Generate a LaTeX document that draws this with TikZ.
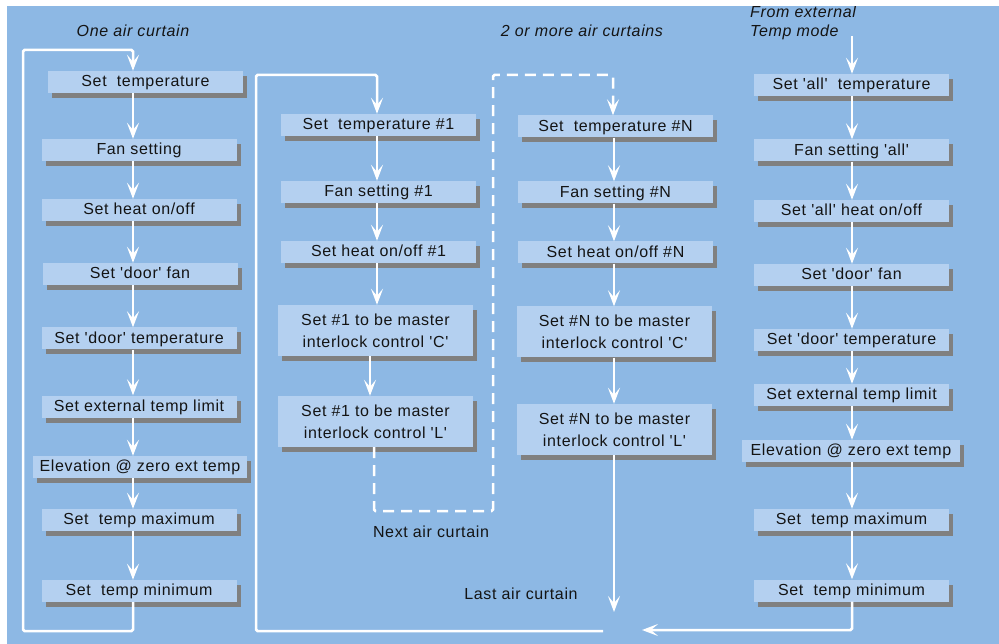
\documentclass[tikz,border=0pt]{standalone}
\usepackage{fontspec}
\setmainfont{Liberation Sans}[LetterSpace=4,Ligatures=TeXOff]
\usetikzlibrary{arrows.meta,shadows}
\definecolor{bgblue}{RGB}{141,184,228}
\definecolor{boxblue}{RGB}{180,208,240}
\definecolor{shadowgray}{RGB}{128,128,128}
\definecolor{txt}{RGB}{20,20,20}
\tikzset{
  basebox/.style={fill=boxblue, text=txt, inner sep=0pt, minimum width=195pt,
    font=\fontsize{16}{22}\selectfont,
    general shadow={fill=shadowgray, shadow xshift=4pt, shadow yshift=-5pt}},
  box/.style={basebox, minimum height=22pt, text height=12.5pt, text depth=3pt},
  tallbox/.style={basebox, minimum height=51pt, align=center},
  widebox/.style={box, minimum width=#1},
  flow/.style={draw=white, line width=2.5pt, rounded corners=1.5pt,
    -{Stealth[length=16pt,width=12pt,inset=7pt]}},
  dashflow/.style={flow, dash pattern=on 11pt off 7pt},
  title/.style={font=\fontsize{16}{19}\selectfont\itshape, text=txt, inner sep=0pt},
  label/.style={font=\fontsize{16}{19}\selectfont, text=txt, inner sep=0pt}
}
\begin{document}
\begin{tikzpicture}[x=1pt,y=-1pt]
\useasboundingbox (0,0) rectangle (999,644);
\fill[bgblue] (7,6) rectangle (999,644);

% column 1: one air curtain
\node[box] (a1) at (145.5,82) {Set\ \ temperature};
\node[box] (a2) at (139,150) {Fan setting};
\node[box] (a3) at (139,210) {Set heat on/off};
\node[box] (a4) at (140,274) {Set 'door' fan};
\node[box] (a5) at (139,338.5) {Set 'door' temperature};
\node[box] (a6) at (139,406.5) {Set external temp limit};
\node[widebox=214pt] (a7) at (140,467) {Elevation @ zero ext temp};
\node[box] (a8) at (139,520) {Set\ \ temp maximum};
\node[box] (a9) at (139,591) {Set\ \ temp minimum};

% column 2: curtain #1
\node[box] (b1) at (378.5,125) {Set\ \ temperature \#1};
\node[box] (b2) at (378.5,192) {Fan setting \#1};
\node[box] (b3) at (378.5,252) {Set heat on/off \#1};
\node[tallbox] (b4) at (375.5,330.5) {Set \#1 to be master\\interlock control 'C'};
\node[tallbox] (b5) at (375.5,421.5) {Set \#1 to be master\\interlock control 'L'};

% column 3: curtain #N
\node[box] (n1) at (615.5,126.5) {Set\ \ temperature \#N};
\node[box] (n2) at (615.5,192.5) {Fan setting \#N};
\node[box] (n3) at (615.5,252.5) {Set heat on/off \#N};
\node[tallbox] (n4) at (614.5,332) {Set \#N to be master\\interlock control 'C'};
\node[tallbox] (n5) at (614.5,429.5) {Set \#N to be master\\interlock control 'L'};

% column 4: from external temp mode
\node[box] (m1) at (851.5,85) {Set 'all'\ \ temperature};
\node[box] (m2) at (851.5,150.5) {Fan setting 'all'};
\node[box] (m3) at (851.5,211) {Set 'all' heat on/off};
\node[box] (m4) at (851.5,275) {Set 'door' fan};
\node[box] (m5) at (851.5,340) {Set 'door' temperature};
\node[box] (m6) at (851.5,395) {Set external temp limit};
\node[widebox=218pt] (m7) at (851,451) {Elevation @ zero ext temp};
\node[box] (m8) at (851.5,520) {Set\ \ temp maximum};
\node[box] (m9) at (851.5,590.5) {Set\ \ temp minimum};

% labels
\node[title, anchor=base] (t1) at (133,37) {One air curtain};
\node[title, anchor=base] (t2) at (582,37) {2 or more air curtains};
\node[title, anchor=base west] (t3) at (750,18) {From external};
\node[title, anchor=base west] (t4) at (750,37) {Temp mode};
\node[label, anchor=base] (t5) at (431,537) {Next air curtain};
\node[label, anchor=base] (t6) at (521,599) {Last air curtain};

% helper coordinates
\coordinate (c1) at (133,0);
\coordinate (c2) at (377,0);
\coordinate (c2b) at (370,0);
\coordinate (c3) at (614,0);
\coordinate (c3d) at (613,0);
\coordinate (c4) at (852,0);
\coordinate (d1) at (374,0);
\coordinate (l1b) at (23,631);
\coordinate (l1t) at (23,50);
\coordinate (j1) at (603,631);
\coordinate (l2b) at (256,631);
\coordinate (l2t) at (256,75);
\coordinate (d2) at (493,511);
\coordinate (d3) at (493,75);
\coordinate (j2) at (614,612);
\coordinate (j3) at (642,630);
\coordinate (s4) at (852,36);

% column 1 arrows
\draw[flow] (a1.south -| c1) -- (a2.north -| c1);
\draw[flow] (a2.south -| c1) -- (a3.north -| c1);
\draw[flow] (a3.south -| c1) -- (a4.north -| c1);
\draw[flow] (a4.south -| c1) -- (a5.north -| c1);
\draw[flow] (a5.south -| c1) -- (a6.north -| c1);
\draw[flow] (a6.south -| c1) -- (a7.north -| c1);
\draw[flow] (a7.south -| c1) -- (a8.north -| c1);
\draw[flow] (a8.south -| c1) -- (a9.north -| c1);
\draw[flow] (a9.south -| c1) -- (c1 |- l1b) -- (l1b) -- (l1t) -- (c1 |- l1t) -- (a1.north -| c1);

% column 2 arrows
\draw[flow] (j1) -- (l2b) -- (l2t) -- (c2 |- l2t) -- (b1.north -| c2);
\draw[flow] (b1.south -| c2) -- (b2.north -| c2);
\draw[flow] (b2.south -| c2) -- (b3.north -| c2);
\draw[flow] (b3.south -| c2) -- (b4.north -| c2);
\draw[flow] (b4.south -| c2b) -- (b5.north -| c2b);
\draw[dashflow] (b5.south -| d1) -- (d1 |- d2) -- (d2) -- (d3) -- (c3d |- d3) -- (n1.north -| c3d);

% column 3 arrows
\draw[flow] (n1.south -| c3) -- (n2.north -| c3);
\draw[flow] (n2.south -| c3) -- (n3.north -| c3);
\draw[flow] (n3.south -| c3) -- (n4.north -| c3);
\draw[flow] (n4.south -| c3) -- (n5.north -| c3);
\draw[flow] (n5.south -| c3) -- (j2);

% column 4 arrows
\draw[flow] (s4) -- (m1.north -| c4);
\draw[flow] (m1.south -| c4) -- (m2.north -| c4);
\draw[flow] (m2.south -| c4) -- (m3.north -| c4);
\draw[flow] (m3.south -| c4) -- (m4.north -| c4);
\draw[flow] (m4.south -| c4) -- (m5.north -| c4);
\draw[flow] (m5.south -| c4) -- (m6.north -| c4);
\draw[flow] (m6.south -| c4) -- (m7.north -| c4);
\draw[flow] (m7.south -| c4) -- (m8.north -| c4);
\draw[flow] (m8.south -| c4) -- (m9.north -| c4);
\draw[flow] (m9.south -| c4) -- (c4 |- j3) -- (j3);

% top white margin
\fill[white] (0,0) rectangle (999,6);
\end{tikzpicture}
\end{document}
